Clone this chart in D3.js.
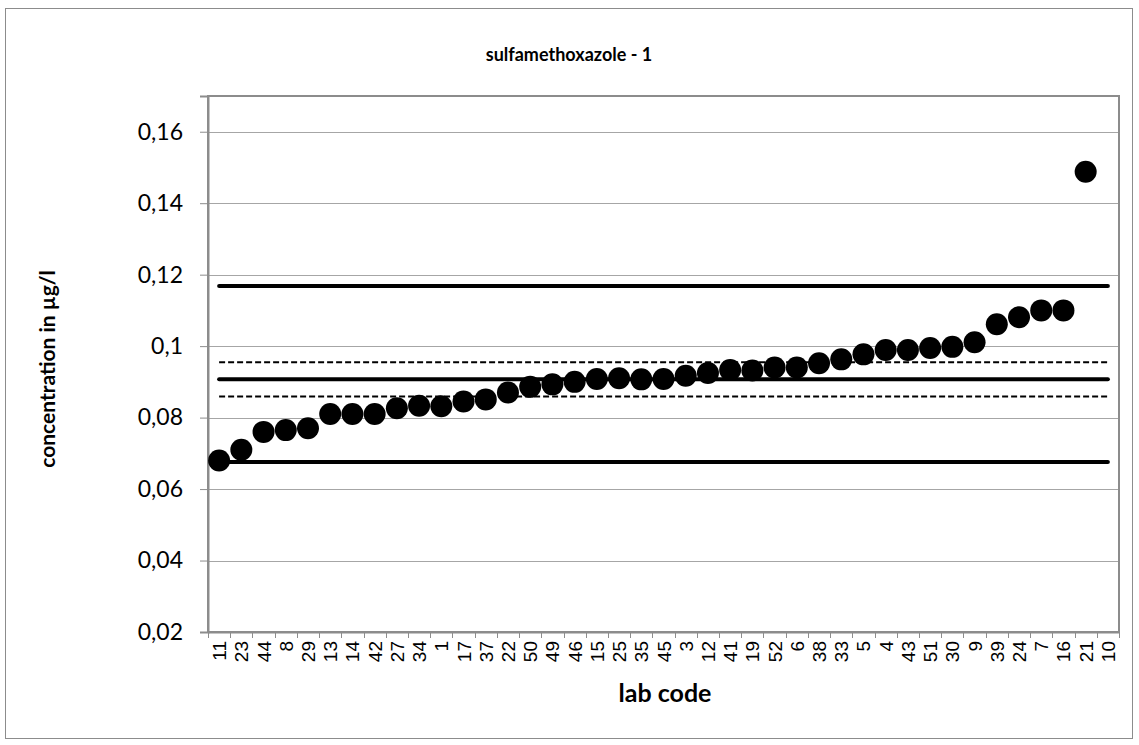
<!DOCTYPE html>
<html>
<head>
<meta charset="utf-8">
<script src="https://cdn.jsdelivr.net/npm/d3@7/dist/d3.min.js"></script>
<style>
  html, body { margin: 0; padding: 0; background: #fff; }
  svg { display: block; }
</style>
</head>
<body>
<svg id="chart" width="1139" height="745"></svg>
<script>
const labCodes = ["11","23","44","8","29","13","14","42","27","34","1","17","37","22","50","49","46","15","25","35","45","3","12","41","19","52","6","38","33","5","4","43","51","30","9","39","24","7","16","21","10"];
const concentrations = [0.068,0.071,0.076,0.0765,0.077,0.081,0.081,0.081,0.0826,0.0833,0.0832,0.0845,0.0851,0.087,0.0886,0.0893,0.090,0.0908,0.091,0.0907,0.0908,0.0917,0.0925,0.0933,0.0932,0.094,0.094,0.0952,0.0963,0.0977,0.0989,0.0989,0.0995,0.0998,0.1011,0.1061,0.1081,0.110,0.110,0.1488,null];
const yTicks = [0.02,0.04,0.06,0.08,0.10,0.12,0.14,0.16];
const solidLimits = [0.1168, 0.0907, 0.0676];
const dashedLimits = [0.0955, 0.0859];
const titleText = "sulfamethoxazole - 1";
const xTitle = "lab code";
const yTitle = "concentration in µg/l";

const svg = d3.select("#chart");
const plot = {left: 208, top: 96, right: 1119, bottom: 632};

// outer chart border
svg.append("rect").attr("x", 5.5).attr("y", 8.5).attr("width", 1127).attr("height", 730)
  .attr("fill", "#fff").attr("stroke", "#8c8c8c").attr("stroke-width", 1);

const x = d3.scaleBand().domain(labCodes).range([plot.left, plot.right]).paddingInner(0).paddingOuter(0);
const y = d3.scaleLinear().domain([0.02, 0.17]).range([plot.bottom, plot.top]);

// gridlines
svg.append("g").selectAll("line").data(yTicks).join("line")
  .attr("x1", plot.left).attr("x2", plot.right)
  .attr("y1", d => Math.round(y(d)) + 0.5).attr("y2", d => Math.round(y(d)) + 0.5)
  .attr("stroke", "#a6a6a6").attr("stroke-width", 1.2);

// plot area border
svg.append("rect").attr("x", plot.left).attr("y", plot.top)
  .attr("width", plot.right - plot.left).attr("height", plot.bottom - plot.top)
  .attr("fill", "none").attr("stroke", "#8c8c8c").attr("stroke-width", 2);

// y axis
const yAxis = d3.axisLeft(y).tickValues(yTicks).tickSize(8).tickPadding(17)
  .tickFormat(d => d3.format(".2~f")(d).replace(".", ","));
const gy = svg.append("g").attr("transform", `translate(${plot.left},0)`).call(yAxis);
gy.select(".domain").attr("stroke", "#8c8c8c").attr("stroke-width", 2);
gy.selectAll(".tick line").attr("stroke", "#8c8c8c").attr("stroke-width", 1);
gy.selectAll(".tick text").attr("font-family", "Lato, 'Open Sans', sans-serif")
  .attr("font-size", 23).attr("fill", "#000");

// x axis
const xAxis = d3.axisBottom(x).tickSize(0).tickPadding(0);
const gx = svg.append("g").attr("transform", `translate(0,${plot.bottom})`).call(xAxis);
gx.select(".domain").attr("stroke", "#8c8c8c").attr("stroke-width", 2);
gx.selectAll(".tick text")
  .attr("font-family", "'Liberation Sans', Arial, sans-serif")
  .attr("font-size", 19).attr("fill", "#000")
  .attr("text-anchor", "end").attr("dy", null)
  .attr("transform", "translate(7,9) rotate(-90)");
// category boundary ticks
const bounds = labCodes.map(d => x(d)).concat([plot.right]);
svg.append("g").selectAll("line").data(bounds).join("line")
  .attr("x1", d => Math.round(d) + 0.5).attr("x2", d => Math.round(d) + 0.5)
  .attr("y1", plot.bottom).attr("y2", plot.bottom + 6)
  .attr("stroke", "#8c8c8c").attr("stroke-width", 1);

// limit lines
const firstX = x(labCodes[0]) + x.bandwidth() / 2;
const lastX = x(labCodes[labCodes.length - 1]) + x.bandwidth() / 2;
svg.append("g").selectAll("line").data(dashedLimits).join("line")
  .attr("x1", firstX).attr("x2", lastX)
  .attr("y1", d => y(d)).attr("y2", d => y(d))
  .attr("stroke", "#000").attr("stroke-width", 2).attr("stroke-dasharray", "6,3");
svg.append("g").selectAll("line").data(solidLimits).join("line")
  .attr("x1", firstX).attr("x2", lastX)
  .attr("y1", d => y(d)).attr("y2", d => y(d))
  .attr("stroke", "#000").attr("stroke-width", 4).attr("stroke-linecap", "round");

// points
const pts = labCodes.map((c, i) => ({c, v: concentrations[i]})).filter(d => d.v != null);
svg.append("g").selectAll("circle").data(pts).join("circle")
  .attr("cx", d => x(d.c) + x.bandwidth() / 2)
  .attr("cy", d => y(d.v))
  .attr("r", 11).attr("fill", "#000");

// titles
svg.append("text").attr("x", 569).attr("y", 61).attr("text-anchor", "middle")
  .attr("font-family", "Lato, 'Open Sans', sans-serif").attr("font-weight", "bold")
  .attr("font-size", 18).text(titleText);
svg.append("text").attr("x", 665).attr("y", 702).attr("text-anchor", "middle")
  .attr("font-family", "Lato, 'Open Sans', sans-serif").attr("font-weight", "bold")
  .attr("font-size", 25).text(xTitle);
svg.append("text").attr("transform", "translate(55,369) rotate(-90)").attr("text-anchor", "middle")
  .attr("font-family", "Lato, 'Open Sans', sans-serif").attr("font-weight", "bold")
  .attr("font-size", 21).text(yTitle);
</script>
</body>
</html>
